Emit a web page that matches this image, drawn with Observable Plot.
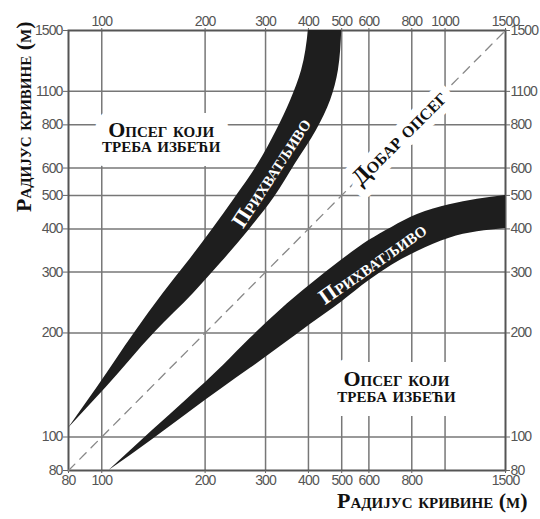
<!DOCTYPE html>
<html>
<head>
<meta charset="utf-8">
<script src="https://cdn.jsdelivr.net/npm/d3@7"></script>
<script src="https://cdn.jsdelivr.net/npm/@observablehq/plot@0.6"></script>
<style>
  html, body { margin: 0; padding: 0; background: #fff; }
  #chart svg g[aria-label$="tick label"] text { letter-spacing: -0.9px; font-stretch: 75%; }
</style>
</head>
<body>
<div id="chart"></div>
<script>
// ---- data ----
const xTicksTop    = [100, 200, 300, 400, 500, 600, 800, 1000, 1500];
const xTicksBottom = [80, 100, 200, 300, 400, 500, 600, 800, 1500];
const xGrid        = [100, 200, 300, 400, 500, 600, 800, 1000];
const yTicks       = [80, 100, 200, 300, 400, 500, 600, 800, 1000, 1500];
const yTickLabels  = ["80", "100", "200", "300", "400", "500", "600", "800", "1100", "1500"];
const yGrid        = [100, 200, 300, 400, 500, 600, 800, 1000];

// upper "acceptable" band: horizontal extent at each vertical value
const upperY     = [106, 139, 201, 260, 318, 396, 493, 618, 770, 941, 1149, 1500];
const upperLeft  = [80, 97, 125, 151, 177, 209, 245, 286, 323, 355, 382, 400];
const upperRight = [80, 103, 143, 185, 222, 268, 318, 367, 422, 464, 489, 500];

// lower "acceptable" band: vertical extent at each horizontal value
const lowerX      = [105, 140, 178, 226, 271, 330, 406, 500, 600, 700, 831, 1030, 1500];
const lowerBottom = [80, 98, 117, 139, 158, 182, 212, 246, 283, 314, 344, 376, 401];
const lowerTop    = [80, 104, 129, 161, 193, 232, 276, 325, 370, 404, 440, 470, 500];

const diagonal = [80, 1500];

const axisTitle   = "Радијус кривине (м)";
const avoidLabel  = "Опсег који\nтреба избећи";
const goodLabel   = "Добар опсег";
const acceptLabel = "Прихватљиво";

// ---- tables built from the arrays ----
const upperBand = upperY.map((y, i) => ({y, left: upperLeft[i], right: upperRight[i]}));
const lowerBand = lowerX.map((x, i) => ({x, bottom: lowerBottom[i], top: lowerTop[i]}));

const serif = "'Liberation Serif', 'DejaVu Serif', serif";
const tickFont = "'Liberation Sans Narrow', 'Arial Narrow', 'Liberation Sans', sans-serif";
const labelStyle = {fontFamily: serif, fontWeight: "bold", fontVariant: "small-caps", fontSize: 22};
const halo = {fill: "white", stroke: "white", strokeLinejoin: "round"};

const chart = Plot.plot({
  width: 540,
  height: 519,
  marginLeft: 68,
  marginRight: 35,
  marginTop: 30,
  marginBottom: 49,
  style: {fontFamily: tickFont, fontSize: "14px", color: "#555", background: "#fff"},
  x: {type: "log", domain: [80, 1500]},
  y: {type: "log", domain: [80, 1500]},
  marks: [
    Plot.gridX(xGrid, {stroke: "#777", strokeOpacity: 1, strokeWidth: 1.5}),
    Plot.gridY(yGrid, {stroke: "#777", strokeOpacity: 1, strokeWidth: 1.5}),
    Plot.frame({stroke: "#555", strokeWidth: 2}),
    Plot.axisX({anchor: "top", ticks: xTicksTop, tickFormat: d => String(d), tickSize: 3, tickPadding: 2, label: null, stroke: "#666"}),
    Plot.axisX({anchor: "bottom", ticks: xTicksBottom, tickFormat: d => String(d), tickSize: 3, tickPadding: 2, label: null, stroke: "#666"}),
    Plot.axisY({anchor: "left", ticks: yTicks, tickFormat: d => yTickLabels[yTicks.indexOf(d)], tickSize: 5, tickPadding: 1, label: null, stroke: "#666"}),
    Plot.axisY({anchor: "right", ticks: yTicks, tickFormat: d => yTickLabels[yTicks.indexOf(d)], tickSize: 4, tickPadding: 1, label: null, stroke: "#666"}),
    Plot.line(diagonal, {x: d => d, y: d => d, stroke: "#888", strokeWidth: 1.3, strokeDasharray: "9,7"}),
    Plot.areaX(upperBand, {y: "y", x1: "left", x2: "right", fill: "#1e1e1e", curve: "monotone-y"}),
    Plot.areaY(lowerBand, {x: "x", y1: "bottom", y2: "top", fill: "#1e1e1e", curve: "monotone-x"}),
    // white boxes (halos) behind the region labels
    Plot.text([avoidLabel], {x: 149, y: 725, text: d => d, ...labelStyle, lineHeight: 0.68, ...halo, strokeWidth: 28}),
    Plot.text([avoidLabel], {x: 722, y: 138, text: d => d, ...labelStyle, lineHeight: 0.72, ...halo, strokeWidth: 28}),
    Plot.text([goodLabel], {x: 735, y: 735, text: d => d, ...labelStyle, fontSize: 23.5, rotate: -45, ...halo, strokeWidth: 16}),
    // region labels
    Plot.text([avoidLabel], {x: 149, y: 725, text: d => d, ...labelStyle, lineHeight: 0.68, fill: "#111"}),
    Plot.text([avoidLabel], {x: 722, y: 138, text: d => d, ...labelStyle, lineHeight: 0.72, fill: "#111"}),
    Plot.text([goodLabel], {x: 735, y: 735, text: d => d, ...labelStyle, fontSize: 23.5, rotate: -45, fill: "#111"}),
    Plot.text([acceptLabel], {x: 312, y: 582, text: d => d, ...labelStyle, fill: "white", rotate: -57}),
    Plot.text([acceptLabel], {x: 615, y: 318, text: d => d, ...labelStyle, fill: "white", rotate: -35}),
    // axis titles
    Plot.text([axisTitle], {frameAnchor: "bottom-right", dx: 22, dy: 37, textAnchor: "end", text: d => d, ...labelStyle, fill: "#111"}),
    Plot.text([axisTitle], {frameAnchor: "top-left", dx: -53, dy: -9, rotate: -90, textAnchor: "end", text: d => d, ...labelStyle, fill: "#111"})
  ]
});

document.getElementById("chart").appendChild(chart);
</script>
</body>
</html>
